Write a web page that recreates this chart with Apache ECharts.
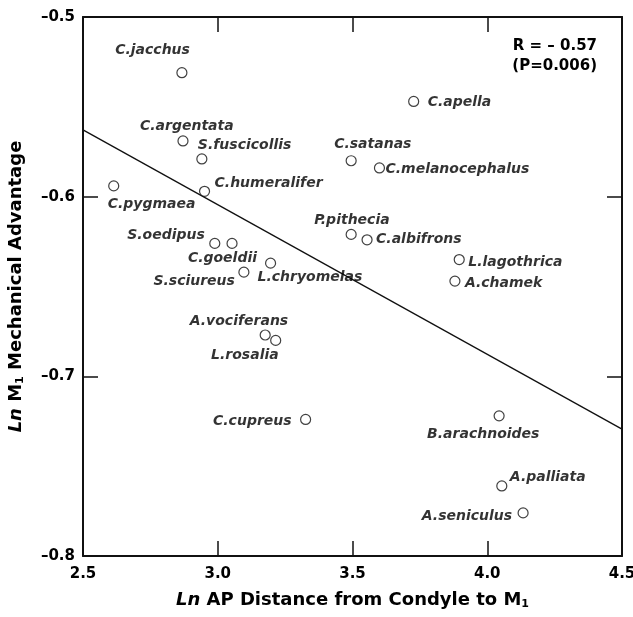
<!DOCTYPE html>
<html>
<head>
<meta charset="utf-8">
<script src="https://cdn.jsdelivr.net/npm/echarts@6/dist/echarts.min.js"></script>
<style>
html,body{margin:0;padding:0;background:#fff;overflow:hidden;}
#c{width:633px;height:617px;}
</style>
</head>
<body>
<div id="c"></div>
<script>
// ---- data ----
var species = ['C.jacchus','C.argentata','S.fuscicollis','C.humeralifer','C.pygmaea','S.oedipus','C.goeldii','S.sciureus','L.chryomelas','A.vociferans','L.rosalia','C.cupreus','C.apella','C.satanas','C.melanocephalus','P.pithecia','C.albifrons','L.lagothrica','A.chamek','B.arachnoides','A.palliata','A.seniculus'];
var lnAP = [2.867,2.871,2.941,2.951,2.614,2.989,3.053,3.097,3.196,3.176,3.215,3.326,3.727,3.495,3.600,3.495,3.554,3.896,3.880,4.044,4.054,4.133];
var lnMA = [-0.531,-0.569,-0.579,-0.597,-0.594,-0.626,-0.626,-0.642,-0.637,-0.677,-0.680,-0.724,-0.547,-0.580,-0.584,-0.621,-0.624,-0.635,-0.647,-0.722,-0.761,-0.776];
var fitX = [2.5, 4.5];
var fitY = [-0.5628, -0.7294];
var xTicks = [2.5, 3.0, 3.5, 4.0, 4.5];
var yTicks = [-0.8, -0.7, -0.6, -0.5];
var statLines = ['R = \u2013 0.57', '(P=0.006)'];

// ---- label placement (style only) ----
var place = {
  'C.jacchus':['right',8,-22],
  'C.argentata':['left',-43,-15],
  'S.fuscicollis':['left',-4,-14],
  'C.humeralifer':['left',10,-8],
  'C.pygmaea':['left',-6,18],
  'S.oedipus':['right',-10,-8],
  'C.goeldii':['right',25,15],
  'S.sciureus':['right',-9,9],
  'L.chryomelas':['left',-13,14],
  'A.vociferans':['right',23,-14],
  'L.rosalia':['right',3,15],
  'C.cupreus':['right',-14,2],
  'C.apella':['left',14,1],
  'C.satanas':['left',-17,-16],
  'C.melanocephalus':['left',6,1],
  'P.pithecia':['left',-37,-14],
  'C.albifrons':['left',9,0],
  'L.lagothrica':['left',9,3],
  'A.chamek':['left',10,2],
  'B.arachnoides':['left',-72,18],
  'A.palliata':['left',8,-9],
  'A.seniculus':['right',-11,3]
};

var FF = 'DejaVu Sans, Verdana, sans-serif';
var TXT = '#000';

var pts = species.map(function(n,i){
  var p = place[n];
  return {
    name: n,
    value: [lnAP[i], lnMA[i]],
    label: {align: p[0], offset: [p[1], p[2]]}
  };
});

function fmtY(v){ return (v<0?'\u2013':'') + Math.abs(v).toFixed(1); }
function fmtX(v){ return v.toFixed(1); }

var axisLine = {show:true, onZero:false, lineStyle:{color:'#111', width:2}};
var tick = {show:true, inside:true, length:15, lineStyle:{color:'#111', width:1.5}};
var titleStyle = {color:TXT, fontSize:18, fontWeight:'bold', fontFamily:FF,
  rich:{i:{fontSize:18,fontWeight:'bold',fontStyle:'italic',fontFamily:FF,color:TXT},
        s:{fontSize:11,fontWeight:'bold',fontFamily:FF,color:TXT,padding:[8,0,0,0]}}};

var chart = echarts.init(document.getElementById('c'), null, {renderer:'canvas'});
chart.setOption({
  animation:false,
  backgroundColor:'#fff',
  grid:{left:83, right:11, top:17, bottom:61, containLabel:false, outerBoundsMode:'none'},
  xAxis:[{
    type:'value', min:xTicks[0], max:xTicks[xTicks.length-1], interval:0.5, position:'bottom',
    axisLine:axisLine, axisTick:tick, splitLine:{show:false},
    axisLabel:{formatter:fmtX, color:TXT, fontSize:15, fontWeight:'bold', fontFamily:FF, margin:11},
    name:'{i|Ln} AP Distance from Condyle to M{s|1}', nameLocation:'middle', nameGap:35,
    nameTextStyle:titleStyle
  },{
    type:'value', min:xTicks[0], max:xTicks[xTicks.length-1], interval:0.5, position:'top',
    axisLine:axisLine, axisTick:tick, axisLabel:{show:false}, splitLine:{show:false}
  }],
  yAxis:[{
    type:'value', min:yTicks[0], max:yTicks[yTicks.length-1], interval:0.1, position:'left',
    axisLine:axisLine, axisTick:tick, splitLine:{show:false},
    axisLabel:{formatter:fmtY, color:TXT, fontSize:15, fontWeight:'bold', fontFamily:FF, margin:8},
    name:'{i|Ln} M{s|1} Mechanical Advantage', nameLocation:'middle', nameGap:57, nameRotate:90,
    nameTextStyle:titleStyle
  },{
    type:'value', min:yTicks[0], max:yTicks[yTicks.length-1], interval:0.1, position:'right',
    axisLine:axisLine, axisTick:tick, axisLabel:{show:false}, splitLine:{show:false}
  }],
  series:[{
    type:'line', data: fitX.map(function(x,i){return [x, fitY[i]];}),
    symbol:'none', lineStyle:{color:'#111', width:1.3}, silent:true, z:1
  },{
    type:'scatter', data: pts, symbol:'circle', symbolSize:10,
    itemStyle:{color:'#fff', borderColor:'#111', borderWidth:1.2},
    label:{show:true, position:'inside', formatter:'{b}', verticalAlign:'middle',
      color:TXT, fontSize:14, fontWeight:'bold', fontStyle:'italic', fontFamily:FF},
    z:3
  }],
  graphic:[
    {type:'text', right:36, top:39, style:{text:statLines[0], fill:TXT, font:'bold 15px DejaVu Sans', textAlign:'right'}},
    {type:'text', right:36, top:59, style:{text:statLines[1], fill:TXT, font:'bold 15px DejaVu Sans', textAlign:'right'}}
  ]
});
</script>
</body>
</html>
